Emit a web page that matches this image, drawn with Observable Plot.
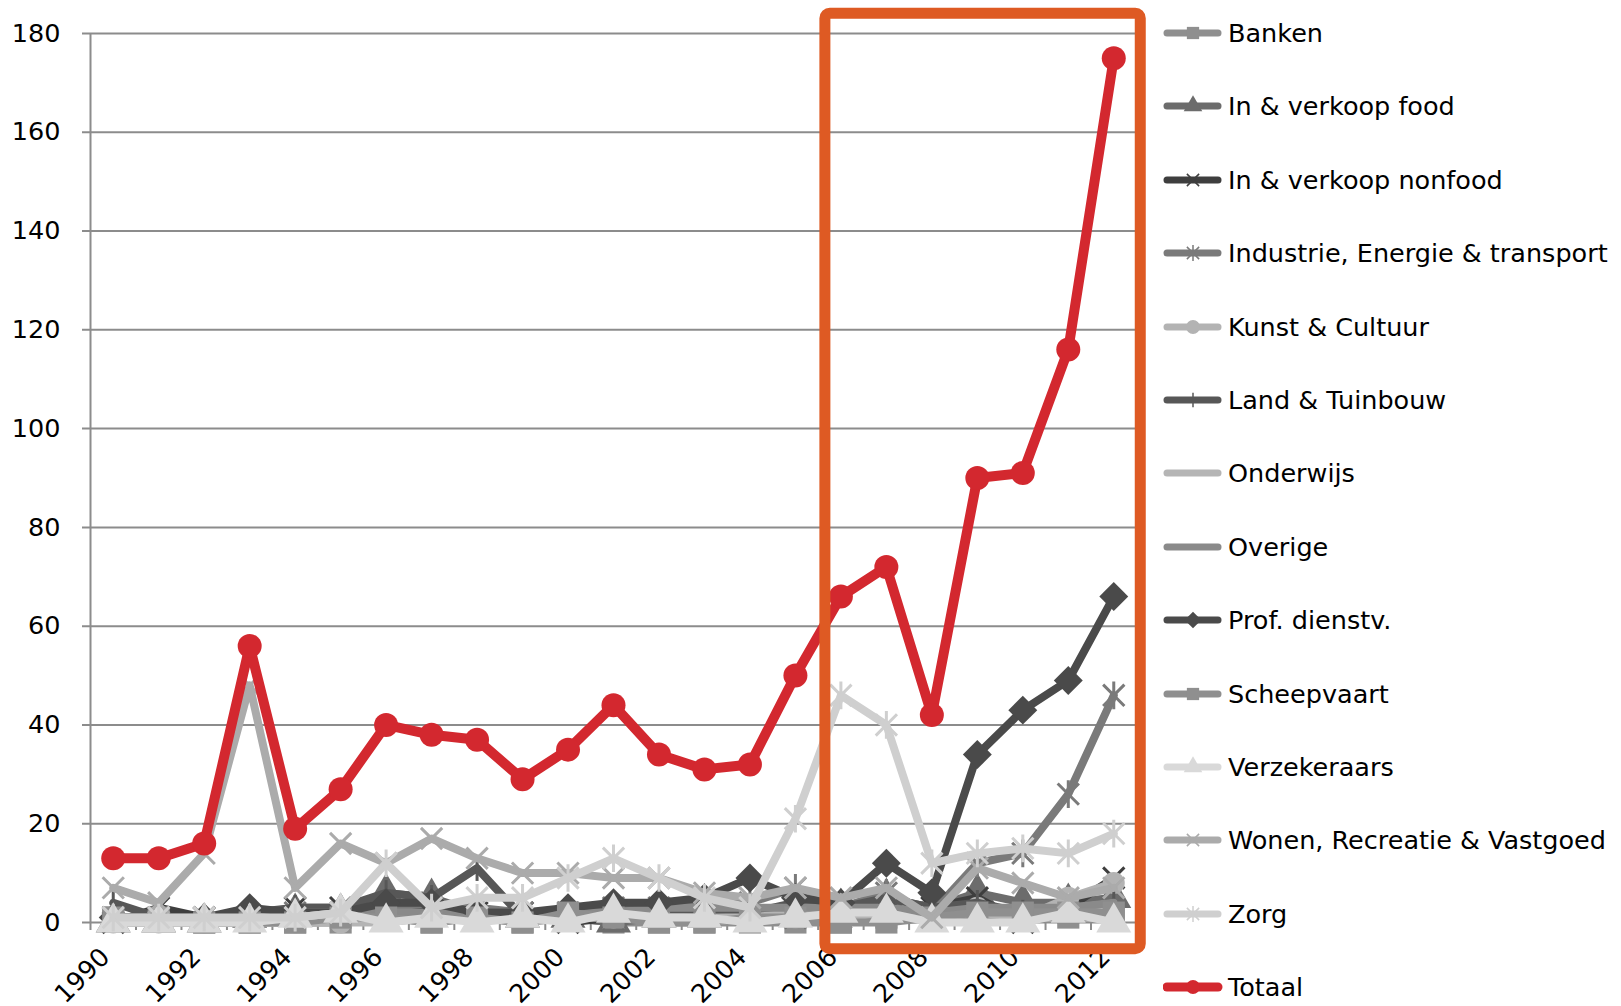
<!DOCTYPE html>
<html>
<head>
<meta charset="utf-8">
<script src="https://cdn.jsdelivr.net/npm/d3@7"></script>
<script src="https://cdn.jsdelivr.net/npm/@observablehq/plot@0.6"></script>
<style>
  html, body { margin: 0; padding: 0; background: #fff; overflow: hidden; }
  #wrap { position: relative; width: 1621px; height: 1006px; font-family: "DejaVu Sans", sans-serif; }
  #legend { position: absolute; left: 1163px; top: 0; }
  .row { position: absolute; left: 0; height: 36px; display: flex; align-items: center; white-space: nowrap; font-size: 25.5px; color: #000; }
  .row svg { margin-right: 5px; }
</style>
</head>
<body>
<div id="wrap"><div id="legend"></div></div>
<script>
// ---- data ----
const years = [1990,1991,1992,1993,1994,1995,1996,1997,1998,1999,2000,2001,2002,2003,2004,2005,2006,2007,2008,2009,2010,2011,2012];
const yTicks = [0,20,40,60,80,100,120,140,160,180];
const xLabelYears = [1990,1992,1994,1996,1998,2000,2002,2004,2006,2008,2010,2012];

const banken       = [1,1,0,0,0,0,1,0,1,0,1,0,0,0,0,0,0,1,1,1,1,1,1];
const foodIV       = [0,0,0,1,2,2,6,5,2,1,1,0,1,1,2,3,3,5,3,6,4,4,5];
const nonfoodIV    = [0,3,1,1,3,3,2,3,2,2,0,1,1,2,1,1,1,2,3,5,0,3,9];
const industrie    = [1,1,1,1,2,2,3,4,3,2,2,3,3,4,4,7,3,6,2,12,14,26,46];
const kunst        = [0,0,0,0,0,0,1,0,1,0,1,1,1,0,1,1,1,2,1,3,1,5,8];
const landTuin     = [4,1,1,2,3,3,6,5,11,1,2,2,2,3,2,4,3,5,3,4,2,3,4];
const onderwijs    = [0,0,0,0,0,0,0,1,1,1,1,1,1,1,1,2,1,2,1,2,1,2,2];
const overige      = [1,1,0,1,2,2,2,2,2,2,2,2,3,3,3,3,3,3,2,3,3,3,4];
const profDienst   = [1,1,1,3,2,2,4,4,2,2,3,4,4,5,9,5,4,12,6,34,43,49,66];
const scheepvaart  = [1,1,0,0,0,1,1,0,1,0,2,1,0,0,1,1,0,0,1,2,2,2,2];
const verzekeraars = [0,0,0,0,1,2,0,1,0,1,0,2,1,1,0,1,2,2,0,0,0,2,0];
const wonen        = [7,4,14,48,7,16,12,17,13,10,10,9,9,6,5,7,5,7,1,11,8,5,7];
const zorg         = [1,1,1,1,1,2,12,3,5,5,9,13,9,5,3,21,46,40,12,14,15,14,18];
const totaal       = [13,13,16,56,19,27,40,38,37,29,35,44,34,31,32,50,66,72,42,90,91,116,175];

const seriesNames = ["Banken","In & verkoop food","In & verkoop nonfood","Industrie, Energie & transport","Kunst & Cultuur","Land & Tuinbouw","Onderwijs","Overige","Prof. dienstv.","Scheepvaart","Verzekeraars","Wonen, Recreatie & Vastgoed","Zorg","Totaal"];
const seriesValues = [banken,foodIV,nonfoodIV,industrie,kunst,landTuin,onderwijs,overige,profDienst,scheepvaart,verzekeraars,wonen,zorg,totaal];

// highlight box (annotation) spanning these years
const highlightFrom = 2006, highlightTo = 2012;

// ---- styles ----
const starSym = { draw(ctx, size) { const r = Math.sqrt(size) * 0.5; ctx.moveTo(-r,-r); ctx.lineTo(r,r); ctx.moveTo(r,-r); ctx.lineTo(-r,r); ctx.moveTo(0,-r*1.3); ctx.lineTo(0,r*1.3); } };
const timesSym = { draw(ctx, size) { const r = Math.sqrt(size) * 0.5; ctx.moveTo(-r,-r); ctx.lineTo(r,r); ctx.moveTo(r,-r); ctx.lineTo(-r,r); } };
const vlineSym = { draw(ctx, size) { const r = Math.sqrt(size) * 0.6; ctx.moveTo(0,-r); ctx.lineTo(0,r); } };
const diamondSym = { draw(ctx, size) { const r = Math.sqrt(size) * 0.68; ctx.moveTo(0,-r); ctx.lineTo(r,0); ctx.lineTo(0,r); ctx.lineTo(-r,0); ctx.closePath(); } };

const styles = [
  {color:"#8f8f8f", sym:d3.symbolSquare,   filled:true,  r:12.5},
  {color:"#6c6c6c", sym:d3.symbolTriangle, filled:true,  r:13},
  {color:"#3e3e3e", sym:timesSym,          filled:false, r:12},
  {color:"#7a7a7a", sym:starSym,           filled:false, r:12},
  {color:"#b3b3b3", sym:d3.symbolCircle,   filled:true,  r:11},
  {color:"#575757", sym:vlineSym,          filled:false, r:12},
  {color:"#b5b5b5", sym:null},
  {color:"#8a8a8a", sym:null},
  {color:"#4a4a4a", sym:diamondSym,        filled:true,  r:12},
  {color:"#8f8f8f", sym:d3.symbolSquare,   filled:true,  r:12.5},
  {color:"#d9d9d9", sym:d3.symbolTriangle, filled:true,  r:13},
  {color:"#ababab", sym:timesSym,          filled:false, r:12},
  {color:"#cfcfcf", sym:starSym,           filled:false, r:12},
  {color:"#d3282f", sym:d3.symbolCircle,   filled:true,  r:12, lw:10}
];

const W = 1621, H = 1006, ML = 90, MR = 485, MT = 33, MB = 84;
const step = (W - ML - MR) / years.length;

const marks = [];
marks.push(Plot.ruleY(yTicks, {y: d => d, stroke: "#8c8c8c", strokeWidth: 2, insetLeft: -8}));
marks.push(Plot.ruleX([years[0]], {x: d => d, dx: -step / 2, y1: 180, y2: 0, insetBottom: -8, stroke: "#8c8c8c", strokeWidth: 2}));
marks.push(Plot.ruleX(years, {x: d => d, dx: step / 2, y1: 0, y2: 0, insetBottom: -8, stroke: "#8c8c8c", strokeWidth: 2}));

seriesNames.forEach((name, k) => {
  const st = styles[k];
  const rows = years.map((yr, i) => ({year: yr, value: seriesValues[k][i]}));
  marks.push(Plot.line(rows, {x: "year", y: "value", stroke: st.color, strokeWidth: st.lw || 8, strokeLinejoin: "round", strokeLinecap: "round"}));
  if (st.sym) {
    marks.push(Plot.dot(rows, {x: "year", y: "value", symbol: st.sym, r: st.r,
      fill: st.filled ? st.color : "none", stroke: st.color, strokeWidth: st.filled ? 0 : 3}));
  }
});

marks.push(Plot.text(yTicks, {y: d => d, text: d => String(d), frameAnchor: "left", textAnchor: "end", dx: -30, fontSize: 25.5, fill: "#000"}));
marks.push(Plot.text(xLabelYears, {x: d => d, text: d => String(d), frameAnchor: "bottom", rotate: -45, textAnchor: "end", dx: -2, dy: 36, fontSize: 25.5, fill: "#000"}));
marks.push(Plot.rect([{a: highlightFrom, b: highlightTo}], {x1: "a", x2: "b", y1: -5.4, y2: 184, insetLeft: -15.5, insetRight: -27, fill: "none", stroke: "#de5a23", strokeWidth: 11, rx: 5}));

const chart = Plot.plot({
  width: W, height: H,
  marginLeft: ML, marginRight: MR, marginTop: MT, marginBottom: MB,
  style: {fontFamily: "DejaVu Sans", fontSize: "25.5px", background: "white", overflow: "visible"},
  x: {type: "point", domain: years, padding: 0.5, round: false, axis: null},
  y: {domain: [0, 180], axis: null},
  marks
});
document.getElementById("wrap").prepend(chart);

// ---- legend ----
const legend = d3.select("#legend");
seriesNames.forEach((name, k) => {
  const st = styles[k];
  const cy = 33 + k * 73.4;
  const row = legend.append("div").attr("class", "row").style("top", (cy - 18) + "px");
  const svg = row.append("svg").attr("width", 60).attr("height", 36);
  svg.append("line").attr("x1", 4).attr("x2", 55).attr("y1", 18).attr("y2", 18)
    .attr("stroke", st.color).attr("stroke-width", k === 13 ? 9 : 7).attr("stroke-linecap", "round");
  if (st.sym) {
    svg.append("path").attr("transform", "translate(30,18)")
      .attr("d", d3.symbol(st.sym, 150)())
      .attr("fill", st.filled ? st.color : "none").attr("stroke", st.color).attr("stroke-width", st.filled ? 0 : 1.5);
  }
  row.append("span").text(name);
});
</script>
</body>
</html>
